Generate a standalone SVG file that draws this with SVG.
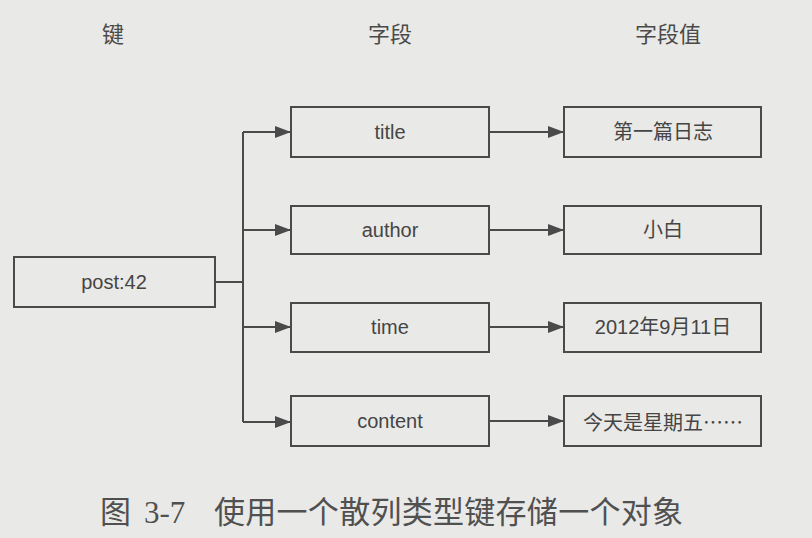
<svg xmlns="http://www.w3.org/2000/svg" width="812" height="538" viewBox="0 0 812 538">
<style>
.bg{fill:#e9e9e7}
.box{fill:#e9e9e7;stroke:#4a4a4a;stroke-width:2}
.lbl{font-family:"Liberation Sans","Noto Sans CJK SC",sans-serif;font-size:20px;fill:#454545;text-anchor:middle;dominant-baseline:central}
.cjk{font-family:"Noto Sans CJK SC",sans-serif}
.hdr{font-family:"Liberation Sans","Noto Sans CJK SC",sans-serif;font-size:22px;fill:#4a4a4a;text-anchor:middle;dominant-baseline:central}
.cap{font-family:"Liberation Serif","Noto Sans CJK SC",serif;font-size:31px;fill:#505050}
.ln{fill:none;stroke:#4a4a4a;stroke-width:2}
</style>
<defs>
<marker id="ah" markerWidth="16" markerHeight="12" refX="15" refY="6" orient="auto" markerUnits="userSpaceOnUse">
<path d="M0,0 L16,6 L0,12 Z" fill="#4a4a4a"/>
</marker>
</defs>
<rect class="bg" x="0" y="0" width="812" height="538"/>
<g id="headers">
<text class="hdr" x="113" y="34">键</text>
<text class="hdr" x="390" y="34">字段</text>
<text class="hdr" x="668" y="34">字段值</text>
</g>
<g id="connectors">
<path class="ln" d="M215,282 H243"/>
<path class="ln" d="M243,132 V422"/>
<path class="ln" d="M243,132 H290" marker-end="url(#ah)"/>
<path class="ln" d="M243,230 H290" marker-end="url(#ah)"/>
<path class="ln" d="M243,327 H290" marker-end="url(#ah)"/>
<path class="ln" d="M243,422 H290" marker-end="url(#ah)"/>
<path class="ln" d="M489,132 H563" marker-end="url(#ah)"/>
<path class="ln" d="M489,230 H563" marker-end="url(#ah)"/>
<path class="ln" d="M489,327 H563" marker-end="url(#ah)"/>
<path class="ln" d="M489,421 H563" marker-end="url(#ah)"/>
</g>
<g id="key"><rect class="box" x="14" y="257" width="201" height="50"/><text class="lbl" x="114" y="282">post:42</text></g>
<g id="f-title"><rect class="box" x="291" y="107" width="198" height="50"/><text class="lbl" x="390" y="132">title</text></g>
<g id="f-author"><rect class="box" x="291" y="206" width="198" height="48"/><text class="lbl" x="390" y="230">author</text></g>
<g id="f-time"><rect class="box" x="291" y="303" width="198" height="49"/><text class="lbl" x="390" y="327">time</text></g>
<g id="f-content"><rect class="box" x="291" y="396" width="198" height="50"/><text class="lbl" x="390" y="421">content</text></g>
<g id="v-title"><rect class="box" x="564" y="107" width="197" height="50"/><text class="lbl" x="663" y="132">第一篇日志</text></g>
<g id="v-author"><rect class="box" x="564" y="206" width="197" height="48"/><text class="lbl" x="663" y="230">小白</text></g>
<g id="v-time"><rect class="box" x="564" y="303" width="197" height="49"/><text class="lbl" x="663" y="327">2012年9月11日</text></g>
<g id="v-content"><rect class="box" x="564" y="396" width="197" height="50"/><text class="lbl cjk" x="663" y="421" lang="zh-CN" font-size="19">今天是星期五……</text></g>
<g id="caption">
<text class="cap" x="100" y="523">图</text>
<text class="cap" x="144" y="523">3-7</text>
<text class="cap" x="214" y="523" textLength="469">使用一个散列类型键存储一个对象</text>
</g>
</svg>
